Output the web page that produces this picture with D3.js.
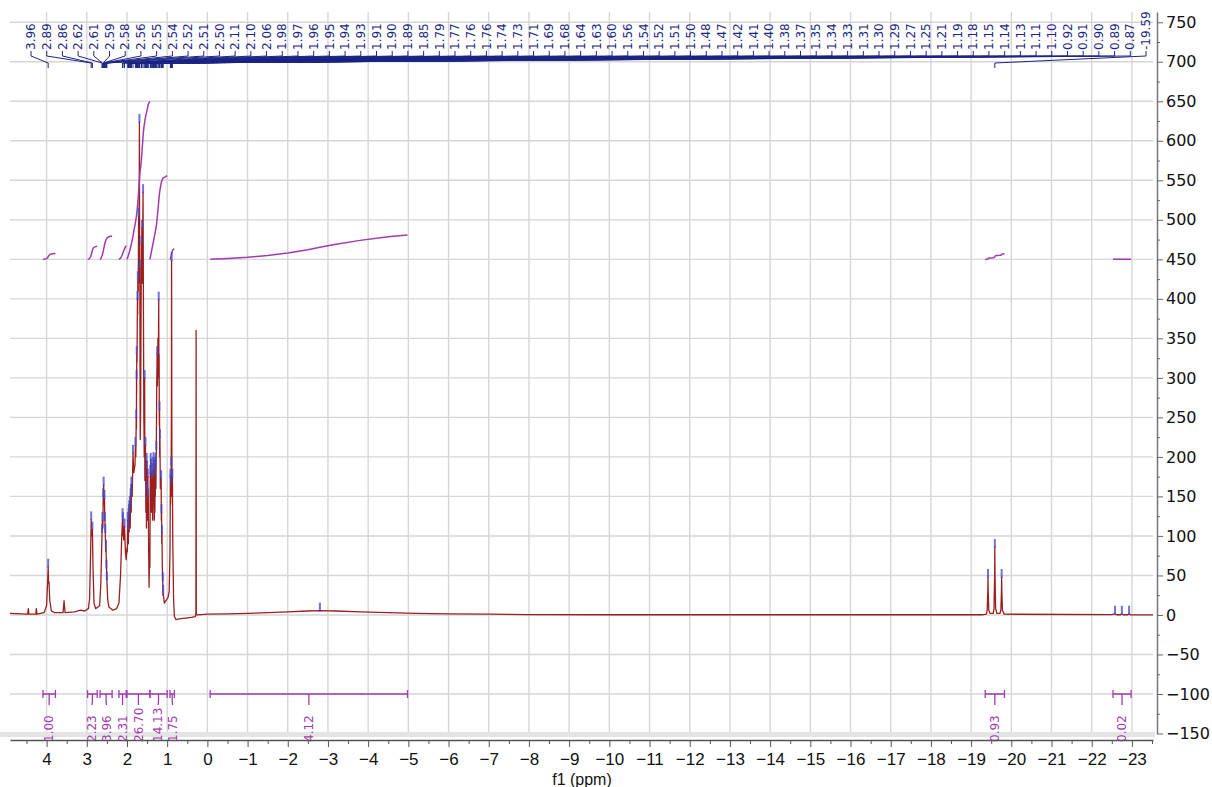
<!DOCTYPE html>
<html>
<head>
<meta charset="utf-8">
<script src="https://cdn.jsdelivr.net/npm/d3@7"></script>
<style>
  body { margin: 0; background: #fff; }
  svg { display: block; }
</style>
</head>
<body>
<svg id="chart" width="1212" height="787"></svg>
<script>
// 1H spectrum: [ppm, intensity]
var spectrum = [
  [4.91, 2], [4.47, 1], [4.455, 8], [4.44, 1], [4.27, 1], [4.255, 8], [4.24, 1],
  [4.06, 3], [4.00, 12], [3.975, 40], [3.96, 61], [3.95, 40], [3.94, 42], [3.92, 18], [3.88, 5],
  [3.80, 3], [3.59, 3], [3.565, 18], [3.54, 3], [3.30, 4], [3.16, 6], [3.05, 5], [2.96, 8],
  [2.93, 20], [2.90, 90], [2.89, 121], [2.875, 100], [2.86, 108], [2.845, 60], [2.82, 15], [2.78, 8],
  [2.72, 10], [2.68, 12], [2.65, 40], [2.62, 105], [2.61, 120], [2.60, 110], [2.59, 150], [2.58, 165],
  [2.57, 140], [2.56, 148], [2.55, 120], [2.54, 105], [2.53, 80], [2.52, 85], [2.51, 60], [2.50, 45],
  [2.48, 20], [2.45, 10], [2.35, 6], [2.26, 8], [2.20, 15], [2.16, 50], [2.13, 100], [2.11, 125],
  [2.105, 100], [2.10, 120], [2.08, 95], [2.06, 112], [2.04, 80], [2.02, 70], [2.00, 85],
  [1.99, 80], [1.98, 120], [1.975, 95], [1.97, 110], [1.965, 90], [1.96, 125], [1.95, 130],
  [1.945, 105], [1.94, 135], [1.93, 140], [1.92, 110], [1.91, 150], [1.90, 155], [1.895, 130],
  [1.89, 165], [1.87, 150], [1.85, 205], [1.83, 180], [1.80, 190], [1.79, 215], [1.78, 200],
  [1.77, 250], [1.765, 235], [1.762, 300], [1.759, 280], [1.757, 330], [1.75, 320], [1.74, 400],
  [1.735, 380], [1.73, 425], [1.72, 410], [1.71, 505], [1.70, 480], [1.69, 624], [1.685, 420],
  [1.68, 440], [1.675, 300], [1.67, 222], [1.66, 260], [1.65, 380], [1.64, 470], [1.635, 430],
  [1.63, 490], [1.62, 420], [1.60, 535], [1.59, 380], [1.58, 250], [1.57, 200], [1.56, 300],
  [1.555, 170], [1.54, 215], [1.53, 130], [1.52, 160], [1.515, 110], [1.51, 195], [1.505, 150],
  [1.50, 185], [1.49, 120], [1.48, 175], [1.475, 130], [1.47, 150], [1.46, 80], [1.45, 35],
  [1.44, 70], [1.43, 60], [1.42, 180], [1.415, 140], [1.41, 195], [1.405, 150], [1.40, 188],
  [1.39, 130], [1.38, 182], [1.375, 145], [1.37, 175], [1.36, 120], [1.35, 190], [1.345, 150],
  [1.34, 196], [1.335, 140], [1.33, 185], [1.32, 120], [1.31, 178], [1.305, 130], [1.30, 190],
  [1.295, 150], [1.29, 195], [1.28, 160], [1.27, 210], [1.26, 290], [1.25, 330], [1.24, 290],
  [1.23, 350], [1.22, 320], [1.21, 399], [1.205, 300], [1.20, 330], [1.195, 240], [1.19, 260],
  [1.185, 200], [1.18, 225], [1.17, 160], [1.15, 173], [1.145, 120], [1.14, 130], [1.135, 90],
  [1.13, 104], [1.12, 60], [1.11, 44], [1.105, 25], [1.10, 28], [1.07, 15], [1.03, 18], [0.98, 22],
  [0.95, 30], [0.93, 80], [0.92, 175], [0.915, 140], [0.91, 168], [0.905, 150], [0.90, 190],
  [0.895, 250], [0.89, 449], [0.885, 260], [0.88, 170], [0.875, 150], [0.87, 175], [0.86, 90],
  [0.84, 20], [0.82, -2], [0.78, -6], [0.70, -5], [0.55, -4], [0.40, -3], [0.30, -2],
  [0.285, 2], [0.28, 360], [0.275, 2], [0.26, 0], [0.15, 0.5], [0.0, 1],
  [-0.5, 1.5], [-1.0, 2], [-1.5, 3], [-2.0, 4], [-2.5, 5], [-2.8, 5.5], [-3.2, 5], [-3.8, 4],
  [-4.5, 3], [-5.2, 2], [-6.0, 1.5], [-7.0, 1], [-8.0, 0.5], [-10.0, 0.3], [-19.30, 0.3],
  [-19.38, 1], [-19.40, 6], [-19.415, 30], [-19.42, 48], [-19.425, 30], [-19.44, 6], [-19.47, 2],
  [-19.55, 2], [-19.57, 8], [-19.585, 50], [-19.59, 86], [-19.595, 50], [-19.61, 8], [-19.64, 2],
  [-19.72, 2], [-19.74, 6], [-19.755, 30], [-19.76, 48], [-19.765, 30], [-19.78, 6], [-19.82, 1],
  [-22.5, 0.3], [-22.58, 1.5], [-22.62, 0.3], [-22.72, 0.3], [-22.75, 1.5], [-22.78, 0.3],
  [-22.9, 0.3], [-22.93, 1.5], [-22.96, 0.3], [-23.525, 0.2]
];

// picked peaks shown along the top
var peakPpm = [3.96, 2.89, 2.86, 2.62, 2.61, 2.59, 2.58, 2.56, 2.55, 2.54, 2.52, 2.51, 2.50,
  2.11, 2.10, 2.06, 1.98, 1.97, 1.96, 1.95, 1.94, 1.93, 1.91, 1.90, 1.89, 1.85, 1.79, 1.77,
  1.762, 1.757, 1.74, 1.73, 1.71, 1.69, 1.68, 1.64, 1.63, 1.60, 1.56, 1.54, 1.52, 1.51, 1.50,
  1.48, 1.47, 1.42, 1.41, 1.40, 1.38, 1.37, 1.35, 1.34, 1.33, 1.31, 1.30, 1.29, 1.27, 1.25,
  1.21, 1.19, 1.18, 1.15, 1.14, 1.13, 1.11, 1.10, 0.92, 0.91, 0.90, 0.89, 0.87, -19.59];
// picked but without a label
var extraPeaks = [-2.8, -19.42, -19.76, -22.58, -22.75, -22.93];

// integrals
var integralFrom = [4.09, 2.98, 2.67, 2.20, 2.00, 1.43, 0.93, -0.07, -19.35, -22.53];
var integralTo = [3.78, 2.74, 2.37, 2.02, 1.43, 1.00, 0.82, -4.98, -19.83, -22.98];
var integralValues = [1.00, 2.23, 3.96, 2.31, 26.70, 14.13, 1.75, 4.12, 0.93, 0.02];

var xTicks = d3.range(4, -24, -1);
var yTicks = d3.range(-150, 751, 50);

var svg = d3.select("#chart");
var plot = {left: 10, right: 1153, top: 12, bottom: 733.5};

var x = d3.scaleLinear().domain([4.91, -23.525]).range([plot.left, plot.right]);
var y = d3.scaleLinear().domain([-150, 763]).range([plot.bottom, plot.top]);

var integralBase = 450;   // integral curves start on this level
var integralScale = 7.49; // y units per 1.00 of integral

var specColor = "#9c1f1f",
    intColor = "#a03aae",
    peakColor = "#1d2684";

svg.append("defs").append("clipPath")
    .attr("id", "clip")
  .append("rect")
    .attr("x", plot.left).attr("y", plot.top)
    .attr("width", plot.right - plot.left).attr("height", plot.bottom - plot.top);

// grid
var grid = svg.append("g").attr("class", "grid");
grid.selectAll("line.v")
  .data(xTicks)
  .join("line")
    .attr("class", "v")
    .attr("x1", d => x(d)).attr("x2", d => x(d))
    .attr("y1", plot.top).attr("y2", 732)
    .attr("stroke", "#d6d6d6").attr("stroke-width", 1.4);
grid.selectAll("line.h")
  .data(yTicks)
  .join("line")
    .attr("class", "h")
    .attr("x1", plot.left).attr("x2", plot.right)
    .attr("y1", d => y(d)).attr("y2", d => y(d))
    .attr("stroke", "#d6d6d6").attr("stroke-width", 1.4);

svg.append("rect")
    .attr("x", 0).attr("y", 732)
    .attr("width", 1155).attr("height", 5)
    .attr("fill", "#e4e4e4");

var area = svg.append("g").attr("clip-path", "url(#clip)");

// spectrum value at a ppm (for markers and integral ends)
var bis = d3.bisector(d => -d[0]).left;
function valueAt(p) {
  var i = bis(spectrum, -p);
  if (i <= 0) return spectrum[0][1];
  if (i >= spectrum.length) return spectrum[spectrum.length - 1][1];
  var a = spectrum[i - 1], b = spectrum[i];
  var t = (a[0] - p) / (a[0] - b[0]);
  return a[1] + t * (b[1] - a[1]);
}

var line = d3.line().x(d => x(d[0])).y(d => y(d[1]));

area.append("path")
    .datum(spectrum)
    .attr("d", line)
    .attr("fill", "none")
    .attr("stroke", specColor)
    .attr("stroke-width", 1.3)
    .attr("stroke-linejoin", "round");

// integral curves, running sum of the spectrum inside each range
function integralCurve(from, to, value) {
  var pts = spectrum.filter(d => d[0] < from && d[0] > to);
  pts = [[from, valueAt(from)]].concat(pts, [[to, valueAt(to)]]);
  var cum = [0];
  for (var i = 1; i < pts.length; i++) {
    cum.push(cum[i - 1] + (pts[i - 1][0] - pts[i][0]) * (pts[i - 1][1] + pts[i][1]) / 2);
  }
  var total = cum[cum.length - 1] || 1;
  return pts.map((d, i) => [d[0], integralBase + cum[i] / total * value * integralScale]);
}

var integrals = integralValues.map((v, i) => ({
  from: integralFrom[i], to: integralTo[i], value: v,
  curve: integralCurve(integralFrom[i], integralTo[i], v)
}));

area.append("g").selectAll("path")
  .data(integrals)
  .join("path")
    .attr("d", d => line(d.curve))
    .attr("fill", "none")
    .attr("stroke", intColor)
    .attr("stroke-width", 1.5);

// blue marks on top of the picked peaks
area.append("g").selectAll("line")
  .data(peakPpm.concat(extraPeaks))
  .join("line")
    .attr("x1", d => x(d)).attr("x2", d => x(d))
    .attr("y1", d => y(valueAt(d)) + 1)
    .attr("y2", d => y(valueAt(d)) - 8)
    .attr("stroke", "#4048cc")
    .attr("stroke-width", 2)
    .attr("opacity", 0.75);

// peak labels spread along the top
var lx = d3.scalePoint().domain(d3.range(peakPpm.length)).range([31, 1146]);
var labels = area.append("g");
labels.selectAll("path")
  .data(peakPpm)
  .join("path")
    .attr("d", (d, i) => "M" + lx(i) + ",51V56L" + x(d) + ",63V68")
    .attr("fill", "none")
    .attr("stroke", peakColor)
    .attr("stroke-width", 1);
labels.selectAll("text")
  .data(peakPpm)
  .join("text")
    .attr("transform", (d, i) => "translate(" + lx(i) + ",50) rotate(-90)")
    .attr("dy", "0.35em")
    .style("font", "12px 'DejaVu Sans', sans-serif")
    .attr("fill", peakColor)
    .text(d => d.toFixed(2));

// integral brackets and values at the bottom
var by = y(-100);
var ig = svg.append("g");
ig.selectAll("path.br")
  .data(integrals)
  .join("path")
    .attr("class", "br")
    .attr("d", d => "M" + x(d.from) + "," + (by - 4) + "V" + (by + 4) +
                    "M" + x(d.from) + "," + by + "H" + x(d.to) +
                    "M" + x(d.to) + "," + (by - 4) + "V" + (by + 4))
    .attr("fill", "none")
    .attr("stroke", intColor)
    .attr("stroke-width", 1.3);

// label positions: middle of the range, pushed apart when too close
var labX = integrals.map(d => x((d.from + d.to) / 2));
for (var k = 1; k < labX.length; k++) {
  if (labX[k] - labX[k - 1] < 14.5) {
    var shift = (14.5 - (labX[k] - labX[k - 1])) / 2;
    labX[k - 1] -= shift;
    labX[k] += shift;
  }
}
ig.selectAll("path.co")
  .data(integrals)
  .join("path")
    .attr("class", "co")
    .attr("d", (d, i) => "M" + x((d.from + d.to) / 2) + "," + by + "V" + (by + 7) + "L" + labX[i] + "," + (by + 11))
    .attr("fill", "none")
    .attr("stroke", intColor)
    .attr("stroke-width", 1.3);
ig.selectAll("text")
  .data(integrals)
  .join("text")
    .attr("transform", (d, i) => "translate(" + labX[i] + ",742) rotate(-90)")
    .attr("dy", "0.35em")
    .style("font", "12px 'DejaVu Sans', sans-serif")
    .attr("fill", intColor)
    .text(d => d.value.toFixed(2));

// x axis
var fmt = d3.format("d");
var xAxis = svg.append("g")
    .attr("transform", "translate(0,740)")
    .call(d3.axisBottom(x).tickValues(xTicks).tickFormat(fmt)
      .tickSize(7).tickSizeOuter(0).tickPadding(6));
xAxis.select(".domain").attr("stroke", "#555").attr("stroke-width", 1.5);
xAxis.selectAll(".tick line").attr("stroke", "#555");
xAxis.selectAll("text")
    .style("font", "17px 'Liberation Sans', Arial, sans-serif")
    .attr("fill", "#111");

svg.append("g")
    .attr("transform", "translate(0,740)")
    .call(d3.axisBottom(x).tickValues(d3.range(4.5, -24, -1)).tickFormat("")
      .tickSize(4).tickSizeOuter(0))
    .call(g => g.select(".domain").remove())
    .selectAll(".tick line").attr("stroke", "#555");

svg.append("text")
    .attr("x", 582).attr("y", 785)
    .attr("text-anchor", "middle")
    .style("font", "16px 'Liberation Sans', Arial, sans-serif")
    .attr("fill", "#111")
    .text("f1 (ppm)");

// y axis on the right
var yAxis = svg.append("g")
    .attr("transform", "translate(1157,0)")
    .call(d3.axisRight(y).tickValues(yTicks).tickFormat(fmt)
      .tickSize(6).tickSizeOuter(0).tickPadding(3));
yAxis.select(".domain").attr("stroke", "#777").attr("stroke-width", 1.5);
yAxis.selectAll(".tick line").attr("stroke", "#666");
yAxis.selectAll("text")
    .style("font", "16px 'DejaVu Sans', sans-serif")
    .attr("fill", "#111");

svg.append("g")
    .attr("transform", "translate(1157,0)")
    .call(d3.axisRight(y).tickValues(d3.range(-125, 751, 50)).tickFormat("")
      .tickSize(3).tickSizeOuter(0))
    .call(g => g.select(".domain").remove())
    .selectAll(".tick line").attr("stroke", "#666");
</script>
</body>
</html>
